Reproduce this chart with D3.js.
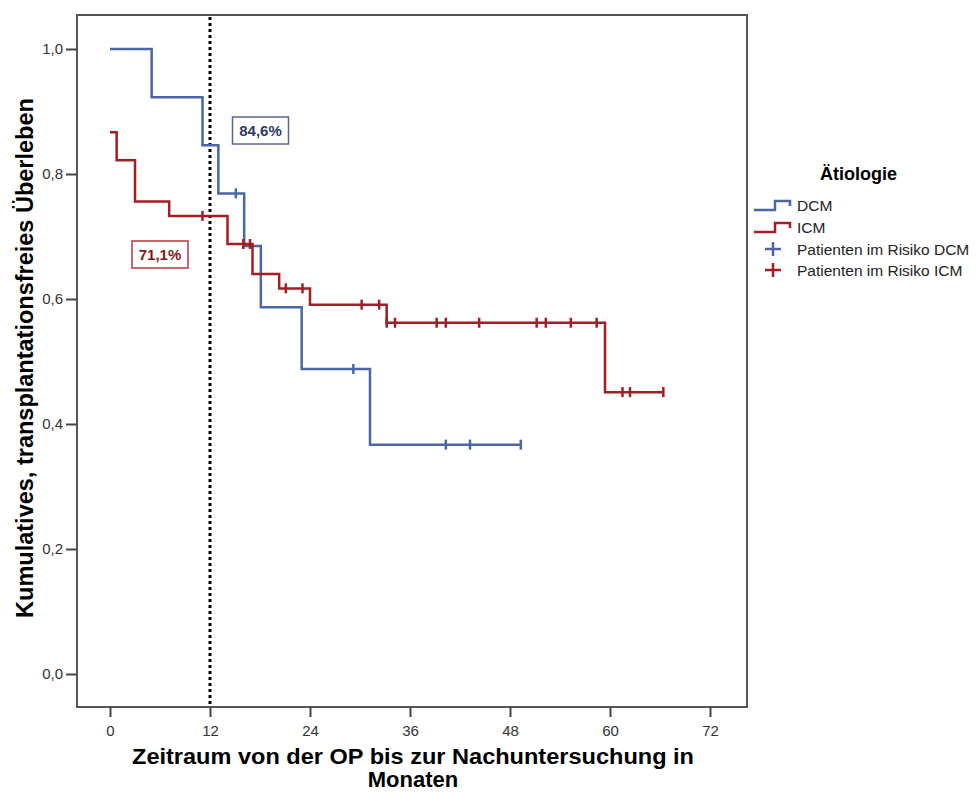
<!DOCTYPE html>
<html>
<head>
<meta charset="utf-8">
<script src="https://cdn.jsdelivr.net/npm/d3@7"></script>
<style>
  body { margin: 0; background: #fff; }
  svg { font-family: "Liberation Sans", Arial, sans-serif; }
</style>
</head>
<body>
<script>
// chart data
var dcmTimes = [0, 5.0, 11.1, 13.0, 16.1, 18.1, 23.0, 31.2],
    dcmSurv  = [1.0, 0.923, 0.846, 0.769, 0.685, 0.587, 0.488, 0.367],
    dcmEnd   = 49.3,
    dcmCensored = [15.1, 29.2, 40.3, 43.2, 49.3];

var icmTimes = [0, 0.8, 3.0, 7.1, 14.1, 17.1, 20.3, 24.0, 33.2, 59.4],
    icmSurv  = [0.867, 0.822, 0.756, 0.733, 0.688, 0.640, 0.617, 0.591, 0.562, 0.451],
    icmEnd   = 66.4,
    icmCensored = [11.1, 16.0, 16.8, 21.1, 23.1, 30.2, 32.3, 33.2, 34.2, 39.2, 40.3,
                   44.3, 51.2, 52.3, 55.3, 58.4, 61.5, 62.4, 66.4];

var xTicks = [0, 12, 24, 36, 48, 60, 72],
    yTicks = [0, 0.2, 0.4, 0.6, 0.8, 1.0];

var markTime = 12,
    labelDCM = "84,6%",
    labelICM = "71,1%";

var legendTitle = "Ätiologie",
    legendItems = ["DCM", "ICM", "Patienten im Risiko DCM", "Patienten im Risiko ICM"];

var blue = "#4a66a7",
    red = "#a21e22";

//setting the width and height
var width = 979,
    height = 792;

var svg = d3.select("body").append("svg")
    .attr("width", width)
    .attr("height", height);

// frame of the plot
var frame = {left: 77, top: 15, right: 747, bottom: 707};

var x = d3.scaleLinear().domain([0, 72]).range([110, 710]);
var y = d3.scaleLinear().domain([0, 1]).range([674, 49]);

svg.append("rect")
    .attr("x", frame.left).attr("y", frame.top)
    .attr("width", frame.right - frame.left)
    .attr("height", frame.bottom - frame.top)
    .attr("fill", "none")
    .attr("stroke", "#555")
    .attr("stroke-width", 2);

// axes
var xAxis = svg.append("g")
    .attr("transform", "translate(0," + frame.bottom + ")")
    .call(d3.axisBottom(x).tickValues(xTicks).tickSize(10).tickPadding(8));
var yAxis = svg.append("g")
    .attr("transform", "translate(" + frame.left + ",0)")
    .call(d3.axisLeft(y).tickValues(yTicks).tickSize(11).tickPadding(3)
          .tickFormat(function(d) { return d3.format(".1f")(d).replace(".", ","); }));

[xAxis, yAxis].forEach(function(a) {
  a.select(".domain").remove();
  a.selectAll("line").attr("stroke", "#444").attr("stroke-width", 2);
  a.selectAll("text").attr("fill", "#333").style("font-size", "15px");
});

// axis titles
svg.append("text")
    .attr("x", 413).attr("y", 764)
    .attr("text-anchor", "middle")
    .attr("textLength", 562)
    .attr("lengthAdjust", "spacingAndGlyphs")
    .style("font-size", "22px").style("font-weight", "bold")
    .text("Zeitraum von der OP bis zur Nachuntersuchung in");
svg.append("text")
    .attr("x", 413).attr("y", 787)
    .attr("text-anchor", "middle")
    .style("font-size", "22px").style("font-weight", "bold")
    .text("Monaten");
svg.append("text")
    .attr("transform", "translate(33,358) rotate(-90)")
    .attr("text-anchor", "middle")
    .style("font-size", "23.5px").style("font-weight", "bold")
    .text("Kumulatives, transplantationsfreies Überleben");

// dotted line at 12 months
svg.append("line")
    .attr("x1", x(markTime)).attr("x2", x(markTime))
    .attr("y1", frame.top + 2).attr("y2", frame.bottom)
    .attr("stroke", "#000")
    .attr("stroke-width", 3)
    .attr("stroke-dasharray", "3,3");

// step curve helper
function stepPoints(times, surv, end) {
  var pts = times.map(function(t, i) { return [t, surv[i]]; });
  pts.push([end, surv[surv.length - 1]]);
  return pts;
}
function survAt(times, surv, t) {
  var v = surv[0];
  times.forEach(function(tt, i) { if (tt <= t) v = surv[i]; });
  return v;
}

var line = d3.line()
    .x(function(d) { return x(d[0]); })
    .y(function(d) { return y(d[1]); })
    .curve(d3.curveStepAfter);

var groups = [
  {times: dcmTimes, surv: dcmSurv, end: dcmEnd, cens: dcmCensored, color: blue},
  {times: icmTimes, surv: icmSurv, end: icmEnd, cens: icmCensored, color: red}
];

groups.forEach(function(g) {
  svg.append("path")
      .datum(stepPoints(g.times, g.surv, g.end))
      .attr("d", line)
      .attr("fill", "none")
      .attr("stroke", g.color)
      .attr("stroke-width", 2.5);

  svg.selectAll(null)
      .data(g.cens)
      .enter().append("line")
      .attr("x1", function(d) { return x(d); })
      .attr("x2", function(d) { return x(d); })
      .attr("y1", function(d) { return y(survAt(g.times, g.surv, d)) - 5; })
      .attr("y2", function(d) { return y(survAt(g.times, g.surv, d)) + 5; })
      .attr("stroke", g.color)
      .attr("stroke-width", 2.5);
});

// boxed percentage labels
function boxLabel(cx, cy, txt, textColor, borderColor) {
  var g = svg.append("g");
  g.append("rect")
      .attr("x", cx - 28).attr("y", cy - 13.5)
      .attr("width", 56).attr("height", 27)
      .attr("fill", "#fff")
      .attr("stroke", borderColor)
      .attr("stroke-width", 1.5);
  g.append("text")
      .attr("x", cx).attr("y", cy + 5.5)
      .attr("text-anchor", "middle")
      .attr("fill", textColor)
      .style("font-size", "15px").style("font-weight", "bold")
      .text(txt);
}
boxLabel(260.5, 130.5, labelDCM, "#2c3a68", "#59678e");
boxLabel(160, 254.5, labelICM, "#8a1518", "#b03a3a");

// legend
var legend = svg.append("g");
legend.append("text")
    .attr("x", 820).attr("y", 180)
    .style("font-size", "18px").style("font-weight", "bold")
    .text(legendTitle);

var legendY = [205, 227, 249, 270],
    legendColors = [blue, red, blue, red];

legend.selectAll("text.item")
    .data(legendItems)
    .enter().append("text")
    .attr("class", "item")
    .attr("x", 797)
    .attr("y", function(d, i) { return legendY[i] + 5.5; })
    .style("font-size", "15.5px")
    .attr("fill", "#222")
    .text(function(d) { return d; });

[0, 1].forEach(function(i) {
  var yy = legendY[i];
  legend.append("path")
      .attr("d", "M754," + (yy + 5) + "H775V" + (yy - 4) + "H790V" + (yy + 1))
      .attr("fill", "none")
      .attr("stroke", legendColors[i])
      .attr("stroke-width", 2.5);
});
[2, 3].forEach(function(i) {
  var yy = legendY[i];
  legend.append("path")
      .attr("d", "M765," + yy + "H781M773," + (yy - 7) + "V" + (yy + 7))
      .attr("stroke", legendColors[i])
      .attr("stroke-width", 2.5);
});
</script>
</body>
</html>
